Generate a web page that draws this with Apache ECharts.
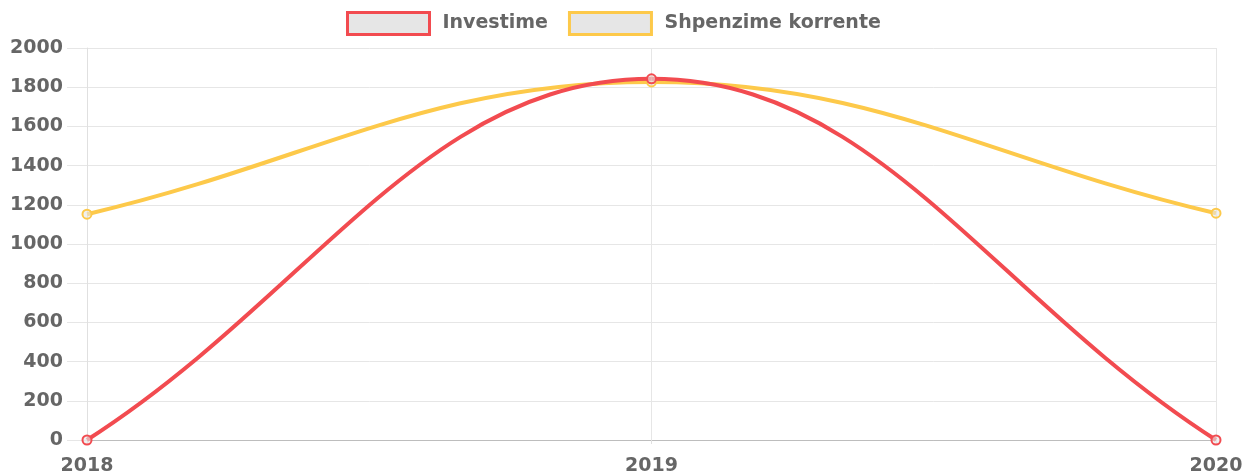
<!DOCTYPE html>
<html>
<head>
<meta charset="utf-8">
<script src="https://cdn.jsdelivr.net/npm/echarts@6/dist/echarts.min.js"></script>
<style>
  html, body { margin: 0; padding: 0; background: #fff; }
  #chart { width: 1253px; height: 476px; }
</style>
</head>
<body>
<div id="chart"></div>
<script>
var years = ['2018', '2019', '2020'];
var investime = [0, 1843, 0];
var shpenzime = [1152, 1827, 1157];
var yTicks = [0, 200, 400, 600, 800, 1000, 1200, 1400, 1600, 1800, 2000];

var red = '#f24b50';
var yellow = '#fdc94a';
var txt = { color: '#666', fontFamily: 'DejaVu Sans', fontSize: 19, fontWeight: 'bold' };
var tension = 0.4;

// spline through the points, control points as in a cardinal spline with tension
function curveSeries(name, values, color, z) {
  return {
    name: name,
    type: 'custom',
    z: z,
    data: values.map(function (v, i) { return [i, v]; }),
    encode: { x: 0, y: 1 },
    itemStyle: { color: '#e6e6e6', borderColor: color, borderWidth: 3 },
    renderItem: function (params, api) {
      var i = params.dataIndex;
      var pts = values.map(function (v, j) { return api.coord([j, v]); });
      function cps(k) {
        var prev = pts[k - 1] || pts[k], cur = pts[k], next = pts[k + 1] || pts[k];
        var d01 = Math.hypot(cur[0] - prev[0], cur[1] - prev[1]);
        var d12 = Math.hypot(next[0] - cur[0], next[1] - cur[1]);
        var s01 = d01 / (d01 + d12) || 0, s12 = d12 / (d01 + d12) || 0;
        var fa = tension * s01, fb = tension * s12;
        return {
          prev: [cur[0] - fa * (next[0] - prev[0]), cur[1] - fa * (next[1] - prev[1])],
          next: [cur[0] + fb * (next[0] - prev[0]), cur[1] + fb * (next[1] - prev[1])]
        };
      }
      var children = [];
      if (i < pts.length - 1) {
        var a = cps(i), b = cps(i + 1);
        children.push({
          type: 'bezierCurve',
          shape: {
            x1: pts[i][0], y1: pts[i][1],
            cpx1: a.next[0], cpy1: a.next[1],
            cpx2: b.prev[0], cpy2: b.prev[1],
            x2: pts[i + 1][0], y2: pts[i + 1][1]
          },
          style: { stroke: color, lineWidth: 4, fill: null }
        });
      }
      children.push({
        type: 'circle',
        z2: 10,
        shape: { cx: pts[i][0], cy: pts[i][1], r: 4.5 },
        style: { fill: 'rgba(230,230,230,0.6)', stroke: color, lineWidth: 2 }
      });
      return { type: 'group', children: children };
    }
  };
}

var chart = echarts.init(document.getElementById('chart'));
chart.setOption({
  animation: false,
  grid: { left: 87, right: 37, top: 48, bottom: 34 },
  legend: {
    left: 346,
    top: 11,
    padding: 0,
    icon: 'rect',
    itemWidth: 82,
    itemHeight: 22,
    itemGap: 20,
    textStyle: { color: txt.color, fontFamily: txt.fontFamily, fontSize: txt.fontSize, fontWeight: txt.fontWeight, padding: [0, 0, 0, 8] },
    data: [
      { name: 'Investime', itemStyle: { color: '#e6e6e6', borderColor: red, borderWidth: 3 } },
      { name: 'Shpenzime korrente', itemStyle: { color: '#e6e6e6', borderColor: yellow, borderWidth: 3 } }
    ]
  },
  xAxis: {
    type: 'category',
    boundaryGap: false,
    data: years,
    axisLine: { lineStyle: { color: '#bdbdbd', width: 1 } },
    axisTick: { show: true, length: 4, lineStyle: { color: '#e0e0e0' } },
    splitLine: { show: true, lineStyle: { color: '#e6e6e6', width: 1 } },
    axisLabel: { color: txt.color, fontFamily: txt.fontFamily, fontSize: txt.fontSize, fontWeight: txt.fontWeight, margin: 17 }
  },
  yAxis: {
    type: 'value',
    min: 0,
    max: 2000,
    interval: 200,
    axisLine: { show: true, lineStyle: { color: '#e0e0e0', width: 1 } },
    axisTick: { show: true, length: 20, lineStyle: { color: '#e6e6e6' } },
    splitLine: { show: true, lineStyle: { color: '#e6e6e6', width: 1 } },
    axisLabel: {
      color: txt.color, fontFamily: txt.fontFamily, fontSize: txt.fontSize, fontWeight: txt.fontWeight, margin: 24,
      formatter: function (v) { return yTicks.indexOf(v) >= 0 ? String(v) : ''; }
    }
  },
  series: [
    curveSeries('Investime', investime, red, 3),
    curveSeries('Shpenzime korrente', shpenzime, yellow, 2)
  ]
});
</script>
</body>
</html>
